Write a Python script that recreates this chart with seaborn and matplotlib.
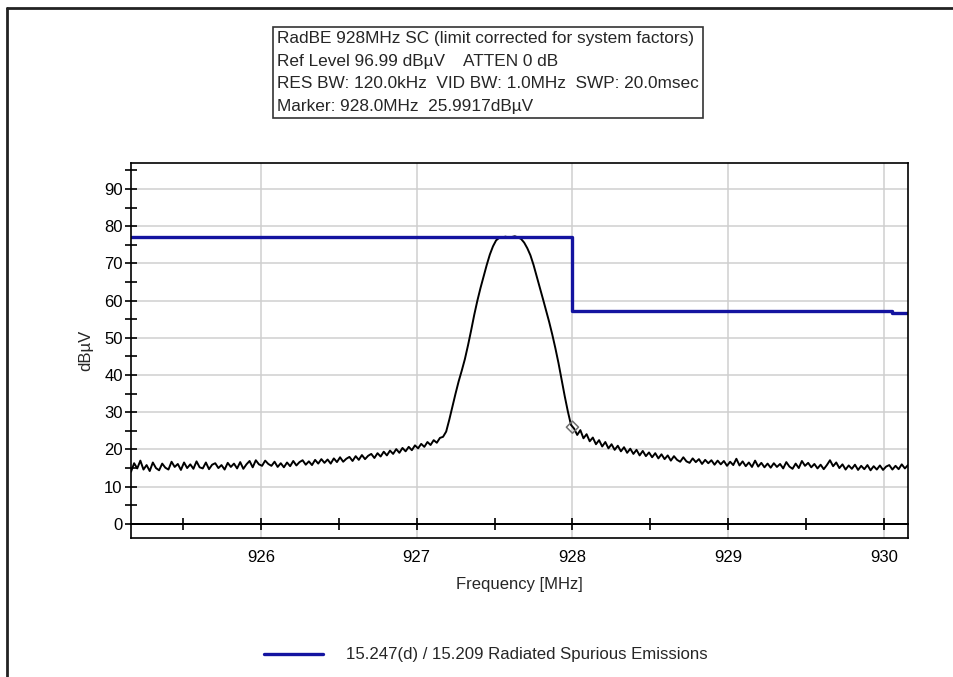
import numpy as np
import pandas as pd
import seaborn as sb
import matplotlib.pyplot as plt
from matplotlib.lines import Line2D
from matplotlib.ticker import MultipleLocator


# ### sweep data ###
start_mhz = 925.165
stop_mhz = 930.155

floor_left = [14.0, 16.3, 14.9, 17.0, 14.6, 15.8, 14.2, 16.5, 15.0, 14.4,
              16.2, 15.1, 14.6, 16.7, 15.3, 16.1, 14.5, 16.5, 15.0, 16.0,
              14.8, 16.8, 15.2, 14.9, 16.5, 14.7, 15.9, 16.3, 15.0, 15.8,
              14.6, 16.4, 15.3, 16.2, 14.9, 16.6, 14.8, 16.0, 16.9, 15.2,
              17.1, 16.0, 15.6, 17.0, 16.1, 15.6, 16.7, 15.3, 16.3, 15.2,
              16.5, 15.5, 16.9, 15.7, 16.6, 17.1, 15.9, 16.8, 15.8, 17.2,
              16.2, 17.4, 16.4, 17.3, 16.2, 17.6, 16.6, 17.9, 16.7, 17.5,
              18.0, 16.9, 18.2, 17.2, 18.5, 17.4, 18.3, 18.8, 17.7, 19.0,
              18.1, 19.4, 18.4, 19.7, 18.8, 20.1, 19.1, 20.4, 19.5, 20.7,
              19.8, 21.1, 20.3, 21.5, 20.7, 22.0, 21.2, 22.5, 21.8, 23.1,
              23.4, 24.8]

carrier = [28.0, 31.5, 35.0, 38.3, 41.2, 44.3, 48.0, 52.0, 56.2, 60.0,
           63.4, 66.5, 69.6, 72.4, 74.6, 76.2, 76.9, 77.0, 77.2, 77.0,
           77.1, 77.3, 77.0, 76.6, 75.6, 74.1, 72.2, 69.6, 66.6, 63.6,
           60.5, 57.4, 54.3, 50.9, 47.2, 43.2, 38.8, 34.3, 30.2, 26.6]

floor_right = [25.6, 23.9, 25.2, 23.0, 24.1, 22.2, 23.2, 21.4, 22.5, 20.8,
               22.0, 20.3, 21.4, 19.9, 21.0, 19.5, 20.6, 19.1, 20.2, 18.8,
               19.9, 18.4, 19.6, 18.2, 19.2, 17.9, 19.0, 17.6, 18.7, 17.4,
               18.4, 17.0, 18.2, 17.2, 16.7, 17.9, 16.8, 16.4, 17.6, 16.6,
               17.4, 16.1, 17.2, 16.3, 17.1, 15.9, 17.0, 16.0, 16.9, 15.6,
               16.7, 15.8, 17.5, 15.7, 16.8, 15.5, 16.5, 15.3, 17.0, 15.4,
               16.4, 15.2, 16.2, 15.1, 16.3, 15.3, 16.1, 14.9, 16.6, 15.4,
               14.8, 16.2, 15.0, 16.9, 15.6, 16.4, 15.2, 16.1, 14.9, 15.9,
               14.7, 15.8, 17.1, 15.5, 16.5, 15.0, 16.0, 14.6, 15.7, 14.8,
               15.9, 14.5, 15.6, 14.7, 15.8, 14.4, 15.5, 14.6, 15.7, 14.5,
               15.4, 15.8, 14.6, 15.6, 14.7, 16.0, 14.9, 15.8]

trace_dbuv = floor_left + carrier + floor_right

# limit line (breakpoints, steps-post)
limit_mhz = [925.165, 928.0, 930.05, 930.155]
limit_dbuv = [77.2, 57.3, 56.8, 56.8]
limit_name = '15.247(d) / 15.209 Radiated Spurious Emissions'

marker_mhz = 928.0
marker_dbuv = 25.9917

header_lines = ['RadBE 928MHz SC (limit corrected for system factors)',
                'Ref Level 96.99 dB\u00b5V    ATTEN 0 dB',
                'RES BW: 120.0kHz  VID BW: 1.0MHz  SWP: 20.0msec',
                'Marker: 928.0MHz  25.9917dB\u00b5V']


# ### ### ###
sb.set_style('white')
plt.rcParams['font.family'] = ['Liberation Sans', 'DejaVu Sans']

tick_fontsize = 12
label_fontsize = 12
header_fontsize = 12.4
legend_fontsize = 12.1

W, H = 954, 677
fig = plt.figure(figsize=(W / 100, H / 100), dpi=100)
fig.patch.set_facecolor('white')

# px -> figure fraction
def fx(px):
    return px / W

def fy(py):
    return 1 - py / H

ax = fig.add_axes([fx(131), fy(538), fx(908) - fx(131), fy(163) - fy(538)])

trace = pd.DataFrame({'freq': np.linspace(start_mhz, stop_mhz, len(trace_dbuv)),
                      'level': trace_dbuv})
limit = pd.DataFrame({'freq': limit_mhz, 'level': limit_dbuv})

sb.lineplot(  data=trace
            , x='freq'
            , y='level'
            , color='black'
            , linewidth=1.4
            , estimator=None
            , sort=False
            , legend=False
            , ax=ax
           )

sb.lineplot(  data=limit
            , x='freq'
            , y='level'
            , color='#1414a0'
            , linewidth=2.4
            , drawstyle='steps-post'
            , estimator=None
            , sort=False
            , label=limit_name
            , ax=ax
           )

sb.scatterplot(  x=[marker_mhz]
               , y=[marker_dbuv]
               , marker='D'
               , s=38
               , facecolor='none'
               , edgecolor='#707070'
               , linewidth=1.1
               , zorder=5
               , ax=ax
              )

ax.set_xlim(start_mhz, stop_mhz)
ax.set_ylim(-3.8, 97)

ax.xaxis.set_major_locator(MultipleLocator(1))
ax.yaxis.set_major_locator(MultipleLocator(10))
ax.yaxis.set_minor_locator(MultipleLocator(5))

ax.grid(True, which='major', color='#cfcfcf', linewidth=1.1)
ax.set_axisbelow(True)

for sp in ax.spines.values():
    sp.set_visible(True)
    sp.set_color('black')
    sp.set_linewidth(1.2)

ax.tick_params(axis='x', which='both', length=0, pad=9, labelsize=tick_fontsize, colors='black')
ax.tick_params(axis='y', which='both', direction='inout', length=8, width=1.2,
               left=True, labelsize=tick_fontsize, colors='black', pad=2)

# x axis line drawn at 0 dBuV, with ticks every 0.5 MHz
ax.axhline(0, color='black', linewidth=1.4, zorder=2)
zero_axis = ax.secondary_xaxis(0, transform=ax.transData)
zero_axis.set_zorder(3)
zero_axis.xaxis.set_major_locator(MultipleLocator(0.5))
zero_axis.tick_params(direction='inout', length=8, width=1.2, color='black', labelbottom=False)
zero_axis.spines['bottom'].set_linewidth(1.4)
zero_axis.spines['bottom'].set_color('black')

ax.set_xlabel('Frequency [MHz]', fontsize=label_fontsize, labelpad=8)
ax.set_ylabel('dB\u00b5V', fontsize=label_fontsize, labelpad=8)

# header box
fig.text(  fx(277)
         , fy(31)
         , '\n'.join(header_lines)
         , ha='left'
         , va='top'
         , fontsize=header_fontsize
         , linespacing=1.64
         , bbox=dict(boxstyle='square,pad=0.25', facecolor='white', edgecolor='#333333', linewidth=1.2)
        )

# legend
handles, labels = ax.get_legend_handles_labels()
ax.get_legend().remove()
fig.legend(  handles
           , labels
           , loc='center'
           , bbox_to_anchor=(fx(486), fy(655))
           , frameon=False
           , fontsize=legend_fontsize
           , handlelength=3.5
           , handletextpad=1.4
          )

# outer window frame
fig.add_artist(Line2D([fx(7), fx(7)], [0, fy(8)], color='#222222', linewidth=2))
fig.add_artist(Line2D([fx(7), 1], [fy(8), fy(8)], color='#222222', linewidth=2))

fig.savefig('out.png', dpi=100)
plt.close()
